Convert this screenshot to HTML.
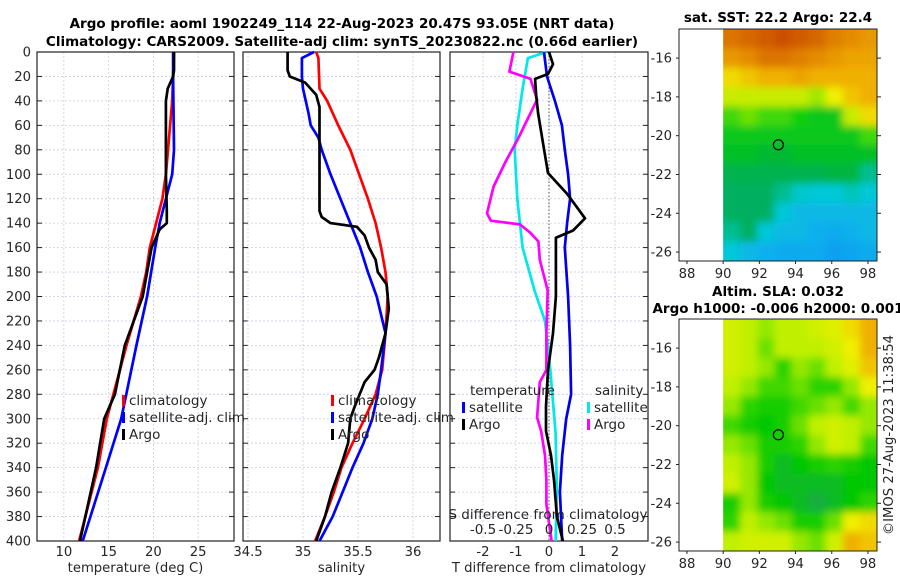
<!DOCTYPE html>
<html><head><meta charset="utf-8"><style>
body{margin:0;background:#fff}
svg{display:block;font-family:"DejaVu Sans","Liberation Sans",sans-serif}
.t{font-size:13.2px;fill:#262626}
.b{font-weight:bold;font-size:13.5px;fill:#000}
</style></head><body>
<svg id="c" width="900" height="580" viewBox="0 0 900 580">
<g id="g"></g>
</svg>
<script>
// ---- data ----
const tArgoDepth=[0,15,20,30,40,100,130,135,140,145,160,180,200,240,280,300,340,400];
const tArgo=[22.3,22.3,22.2,21.6,21.4,21.4,21.5,21.5,21.5,20.7,19.8,19.3,18.8,16.8,15.7,14.5,13.6,11.8];
const tClimDepth=[0,40,100,120,140,160,180,200,240,300,340,400];
const tClim=[22.3,22.1,21.4,21.0,20.3,19.6,19.2,18.6,17.0,14.8,13.8,11.7];
const tSatDepth=[0,20,80,100,120,140,160,200,240,300,340,400];
const tSat=[22.2,22.2,22.3,22.1,21.4,20.7,20.2,19.3,18.1,16.4,14.7,12.1];
const sArgoDepth=[0,15,20,25,35,45,130,135,140,143,150,160,170,180,190,210,230,250,260,270,290,300,310,320,340,360,380,400];
const sArgo=[34.86,34.86,34.88,35.02,35.12,35.15,35.15,35.17,35.25,35.49,35.56,35.6,35.66,35.68,35.76,35.78,35.75,35.69,35.65,35.56,35.47,35.43,35.42,35.41,35.34,35.26,35.2,35.12];
const sClimDepth=[0,5,30,40,60,80,100,120,140,160,180,200,230,260,280,300,320,340,360,380,400];
const sClim=[35.12,35.14,35.15,35.22,35.32,35.43,35.51,35.59,35.66,35.71,35.75,35.77,35.75,35.72,35.66,35.56,35.45,35.35,35.28,35.2,35.11];
const sSatDepth=[0,5,20,30,50,60,70,80,100,120,140,160,180,200,230,260,280,300,320,340,360,380,400];
const sSat=[35.1,34.99,34.99,35.0,35.05,35.07,35.14,35.17,35.25,35.34,35.43,35.52,35.59,35.67,35.75,35.71,35.68,35.63,35.55,35.45,35.36,35.27,35.15];
const dTSatDepth=[0,20,40,60,80,100,120,140,160,200,240,280,300,330,360,400];
const dTSat=[-0.15,-0.06,0.18,0.39,0.48,0.58,0.64,0.55,0.48,0.58,0.64,0.67,0.52,0.4,0.33,0.4];
const dTArgoDepth=[0,10,18,22,35,50,75,99,116,136,146,152,170,200,230,260,290,310,330,350,380,400];
const dTArgo=[0,0.12,-0.03,-0.42,-0.39,-0.33,-0.18,-0.03,0.55,1.09,0.73,0.21,0.21,0.21,0.12,-0.03,-0.09,-0.09,0.06,0.15,0.24,0.42];
const dSSatDepth=[0,5,30,60,80,120,160,195,220,260,312,360,400];
const dSSat=[-0.02,-0.16,-0.2,-0.24,-0.26,-0.24,-0.2,-0.11,-0.03,0.01,0.05,0.06,0.05];
const dSArgoDepth=[0,16,22,39,50,70,90,110,132,138,141,148,155,170,195,230,260,270,299,310,330,350,370,400];
const dSArgo=[-0.27,-0.3,-0.14,-0.09,-0.14,-0.23,-0.33,-0.42,-0.47,-0.44,-0.22,-0.14,-0.08,-0.07,-0.01,-0.02,-0.02,-0.07,-0.09,-0.06,-0.03,-0.02,-0.02,0.02];
const depthTicks=[0,20,40,60,80,100,120,140,160,180,200,220,240,260,280,300,320,340,360,380,400];
const tempTicks=[10,15,20,25];
const salTicks=[34.5,35,35.5,36];
const dTTicks=[-2,-1,0,1,2];
const dSTicks=[-0.5,-0.25,0,0.25,0.5];
const latTicks=[-16,-18,-20,-22,-24,-26];
const lonTicks=[88,90,92,94,96,98];
const sstGrid=[
[23.8,23.9,24.0,24.1,24.0,23.9,23.7,23.6,23.5],
[23.5,23.6,23.8,23.8,23.7,23.6,23.5,23.4,23.4],
[23.1,23.2,23.3,23.3,23.4,23.3,23.3,23.3,23.3],
[22.9,22.9,22.9,22.9,22.9,22.8,23.0,23.2,23.3],
[22.6,22.7,22.6,22.6,22.5,22.4,22.4,22.9,23.1],
[22.4,22.4,22.4,22.4,22.4,22.4,22.4,22.4,22.6],
[22.3,22.3,22.2,22.2,22.3,22.3,22.3,22.3,22.3],
[22.0,22.0,22.0,22.0,22.0,22.0,22.1,22.1,21.8],
[21.9,21.9,21.9,21.8,21.65,21.6,21.6,21.7,21.6],
[21.9,21.9,21.9,21.6,21.5,21.5,21.5,21.5,21.5],
[21.8,21.9,21.6,21.5,21.5,21.45,21.4,21.45,21.5],
[21.6,21.5,21.45,21.4,21.4,21.4,21.3,21.35,21.4]];
const slaGrid=[
[.6,.55,.5,.55,.55,.6,.65,.75,.85],
[.6,.55,.45,.55,.55,.55,.6,.7,.85],
[.6,.55,.5,.35,.5,.45,.55,.65,.8],
[.55,.5,.4,.4,.45,.35,.35,.5,.7],
[.5,.35,.3,.3,.4,.45,.5,.4,.5],
[.4,.3,.25,.3,.45,.55,.6,.55,.5],
[.5,.45,.3,.3,.35,.5,.6,.55,.4],
[.55,.5,.3,.2,.25,.3,.35,.3,.25],
[.6,.5,.25,.2,.2,.2,.2,.25,.25],
[.3,.5,.3,.25,.2,.15,.2,.25,.35],
[.35,.55,.5,.45,.3,.3,.45,.7,.75],
[.55,.6,.6,.6,.5,.45,.6,.85,.8]];
const argoLon=93.05, argoLat=-20.47;

// ---- helpers ----
const NS="http://www.w3.org/2000/svg";
const G=document.getElementById('g');
function mk(tag,at,parent){const e=document.createElementNS(NS,tag);for(const k in at)e.setAttribute(k,at[k]);(parent||G).appendChild(e);return e;}
function txt(x,y,s,cls,anchor,parent){const e=mk('text',{x:x,y:y,class:cls||'t','text-anchor':anchor||'middle'},parent);e.textContent=s;return e;}
const Y0=52,Y1=541;
const yD=d=>Y0+(d/400)*(Y1-Y0);
function lin(d0,d1,p0,p1){return v=>p0+(v-d0)/(d1-d0)*(p1-p0);}

function panel(name,x0,x1,xf,xt,tickLabels,xlabel,showDepth){
  const g=mk('g',{});
  
  
  depthTicks.forEach(d=>{mk('line',{x1:x0,x2:x1,y1:yD(d),y2:yD(d),stroke:'#c8cce8','stroke-width':0.8,'stroke-dasharray':'2,2'},g);
    mk('line',{x1:x0,x2:x0+5,y1:yD(d),y2:yD(d),stroke:'#222'},g);mk('line',{x1:x1-5,x2:x1,y1:yD(d),y2:yD(d),stroke:'#222'},g);
    if(showDepth)txt(31,yD(d)+4.5,String(d),'t','end',g);});
  xt.forEach((v,i)=>{const x=xf(v);mk('line',{x1:x,x2:x,y1:Y0,y2:Y1,stroke:'#c8cce8','stroke-width':0.8,'stroke-dasharray':'2,2'},g);
    if(tickLabels)txt(x,556,tickLabels[i],'t','middle',g);});
  mk('rect',{x:x0,y:Y0,width:x1-x0,height:Y1-Y0,fill:'none',stroke:'#222','stroke-width':1.2},g);
  txt((x0+x1)/2,572,xlabel,'t','middle',g);
  return g;
}
function series(name,depths,vals,xf,color,parent){
  const p=depths.map((d,i)=>(i?'L':'M')+xf(vals[i]).toFixed(1)+','+yD(d).toFixed(1)).join('');
  const e=mk('path',{d:p,fill:'none',stroke:color,'stroke-width':2.7,'stroke-linejoin':'round'},parent);
  
  
}
function legend(x,y,items,parent){
  items.forEach((it,i)=>{const yy=y+i*17;
    mk('rect',{x:x,y:yy-10,width:3,height:11,fill:it[1]},parent);
    txt(x+7,yy,it[0],'t','start',parent).setAttribute('style','font-size:13.5px');});
}

// panel 1: temperature
const xT=lin(7,29,37,234);
const p1=panel('temperature-panel',37,234,xT,tempTicks,tempTicks.map(String),'temperature (deg C)',true);
series('temp-climatology-line',tClimDepth,tClim,xT,'#ff0000',p1);
series('temp-satellite-line',tSatDepth,tSat,xT,'#0000ff',p1);
series('temp-argo-line',tArgoDepth,tArgo,xT,'#000',p1);
legend(122,405,[['climatology','#ff0000'],['satellite-adj. clim','#0000ff'],['Argo','#000']],p1);

// panel 2: salinity
const xS=lin(34.5,36,248,413);
const p2=panel('salinity-panel',243,440,xS,salTicks,['34.5','35','35.5','36'],'salinity',false);
series('sal-climatology-line',sClimDepth,sClim,xS,'#ff0000',p2);
series('sal-satellite-line',sSatDepth,sSat,xS,'#0000ff',p2);
series('sal-argo-line',sArgoDepth,sArgo,xS,'#000',p2);
legend(331,405,[['climatology','#ff0000'],['satellite-adj. clim','#0000ff'],['Argo','#000']],p2);

// panel 3: differences
const xdT=lin(-3,3,450,648), xdS=lin(-0.75,0.75,450,648);
const p3=panel('difference-panel',450,648,xdT,dTTicks,dTTicks.map(String),'T difference from climatology',false);
mk('line',{x1:xdT(0),x2:xdT(0),y1:Y0,y2:Y1,stroke:'#555','stroke-width':1,'stroke-dasharray':'1.5,2'},p3);
series('dS-satellite-line',dSSatDepth,dSSat,xdS,'#00e8e8',p3);
series('dT-satellite-line',dTSatDepth,dTSat,xdT,'#0000ee',p3);
series('dS-argo-line',dSArgoDepth,dSArgo,xdS,'#ff00ff',p3);
series('dT-argo-line',dTArgoDepth,dTArgo,xdT,'#000',p3);
txt(470,395,'temperature','t','start',p3).setAttribute('style','font-size:13.5px');
txt(595,395,'salinity','t','start',p3).setAttribute('style','font-size:13.5px');
legend(462,412,[['satellite','#0000ff'],['Argo','#000']],p3);
legend(587,412,[['satellite','#00e8e8'],['Argo','#ff00ff']],p3);
txt(548,519,'S difference from climatology','t','middle',p3).setAttribute('style','font-size:13.5px');
dSTicks.forEach(v=>txt(xdS(v),534,String(v),'t','middle',p3).setAttribute('style','font-size:13.5px'));

// titles
txt(342,28,'Argo profile: aoml 1902249_114 22-Aug-2023 20.47S 93.05E (NRT data)','b');
txt(342,46,'Climatology: CARS2009. Satellite-adj clim: synTS_20230822.nc (0.66d earlier)','b');

// maps
function cmap(stops,v){
  if(v<=stops[0][0])return stops[0][1];
  for(let i=1;i<stops.length;i++){if(v<=stops[i][0]){const a=stops[i-1],b=stops[i],t=(v-a[0])/(b[0]-a[0]);
    const ca=a[1],cb=b[1];return [0,1,2].map(k=>Math.round(ca[k]+(cb[k]-ca[k])*t));}}
  return stops[stops.length-1][1];
}
const sstStops=[[21.3,[16,160,240]],[21.45,[16,176,236]],[21.6,[0,200,216]],[21.75,[0,196,170]],[21.9,[0,176,96]],[22.2,[0,184,48]],[22.5,[16,208,16]],[22.8,[160,232,0]],[23.0,[240,240,0]],[23.3,[240,176,0]],[23.7,[224,128,0]],[24.1,[204,80,0]]];
const slaStops=[[0.1,[32,160,96]],[0.25,[0,200,0]],[0.4,[64,216,0]],[0.55,[192,240,0]],[0.7,[240,240,0]],[0.85,[240,176,0]],[1,[224,128,0]]];
function toStr(c){return 'rgb('+c.join(',')+')';}
function map(name,ytop,grid,stops,titles){
  const g=mk('g',{});
  
  
  const X0=679,X1=877,H=232;
  const xl=lin(87.56,98.5,X0,X1), yl=lin(-14.5,-26.46,ytop,ytop+H);
  const id='clip'+ytop;
  const cp=mk('clipPath',{id:id},g);mk('rect',{x:xl(90),y:ytop,width:X1-xl(90),height:H},cp);
  const blur='bl'+ytop;const f=mk('filter',{id:blur,x:'-10%',y:'-10%',width:'120%',height:'120%'},g);mk('feGaussianBlur',{stdDeviation:4},f);
  const inner=mk('g',{'clip-path':'url(#'+id+')'},g);
  const cg=mk('g',{filter:'url(#'+blur+')'},inner);
  const rows=grid.length,cols=grid[0].length,cw=(X1-xl(90))/cols,ch=H/rows;
  grid.forEach((r,i)=>r.forEach((v,j)=>{const c=toStr(cmap(stops,v));
    mk('rect',{x:xl(90)+j*cw-(j==0?10:0),y:ytop+i*ch-(i==0?10:0),width:cw+1+(j==0?10:0)+(j==cols-1?10:0),height:ch+1+(i==0?10:0)+(i==rows-1?10:0),fill:c},cg);}));
  mk('rect',{x:X0,y:ytop,width:X1-X0,height:H,fill:'none',stroke:'#222','stroke-width':1},g);
  latTicks.forEach(v=>{const y=yl(v);mk('line',{x1:X1,x2:X1+4,y1:y,y2:y,stroke:'#222'},g);mk('line',{x1:X0,x2:X0-3,y1:y,y2:y,stroke:'#222'},g);txt(672,y+4.5,String(v),'t','end',g);});
  lonTicks.forEach(v=>{const x=xl(v);mk('line',{x1:x,x2:x,y1:ytop+H,y2:ytop+H+3,stroke:'#222'},g);txt(x,ytop+H+17,String(v),'t','middle',g);});
  const c=mk('circle',{cx:xl(argoLon),cy:yl(argoLat),r:5,fill:'none',stroke:'#000','stroke-width':1.2},g);
  
  
  titles.forEach(t=>txt(t[0],t[1],t[2],'b','middle',g));
}
map('sst-map',29,sstGrid,sstStops,[[778,22,'sat. SST: 22.2 Argo: 22.4']]);
map('sla-map',319,slaGrid,slaStops,[[778,296,'Altim. SLA: 0.032'],[778,313,'Argo h1000: -0.006 h2000: 0.001']]);
const cr=txt(0,0,'©IMOS 27-Aug-2023 11:38:54','t','middle');
cr.setAttribute('transform','translate(893,435) rotate(-90)');


</script>
</body></html>
